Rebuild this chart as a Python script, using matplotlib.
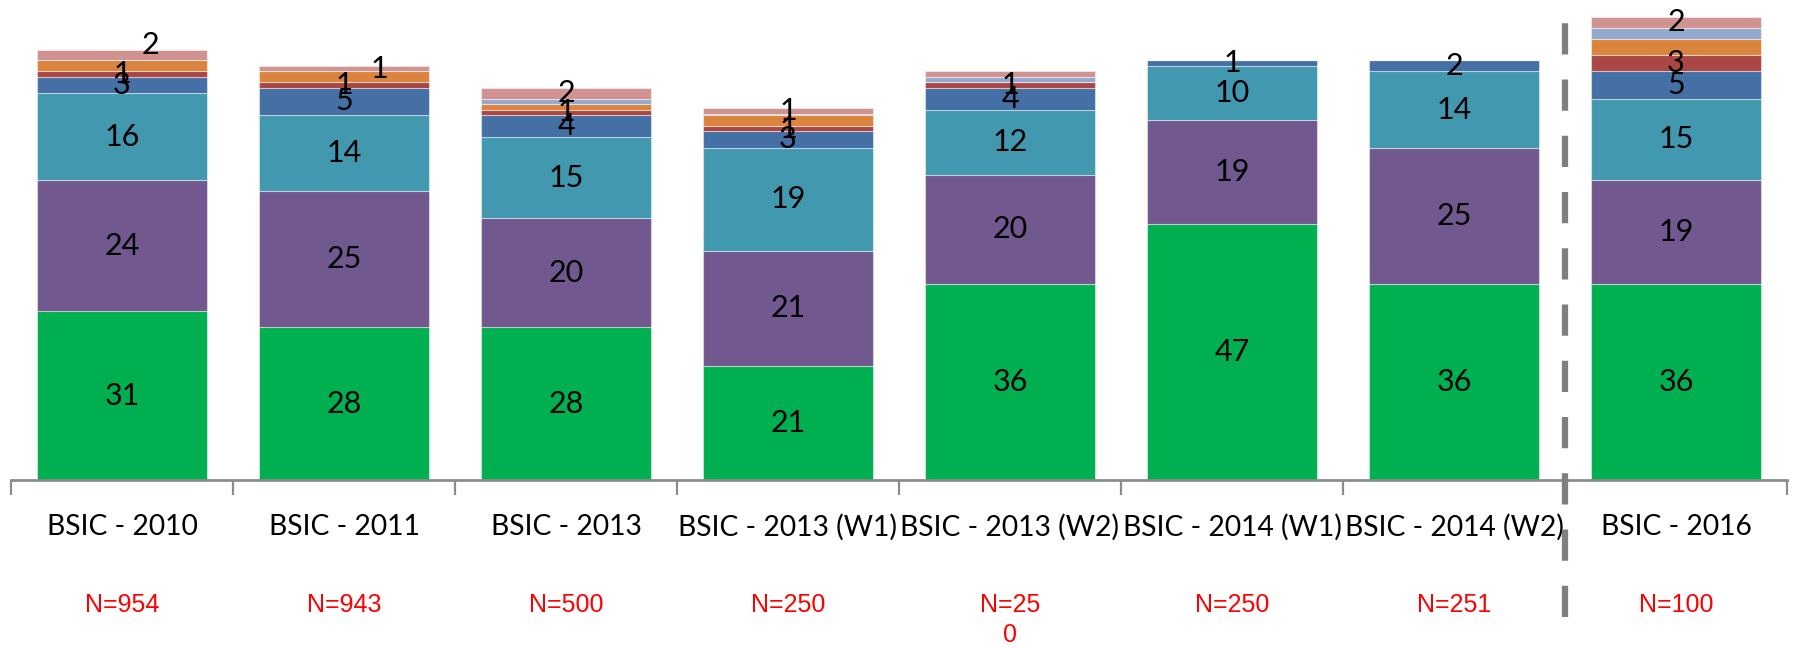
import matplotlib

matplotlib.use("Agg")
import matplotlib.pyplot as plt
import matplotlib.transforms as mtransforms
import numpy as np

# bars, bottom series first
categories = [
    "BSIC - 2010",
    "BSIC - 2011",
    "BSIC - 2013",
    "BSIC - 2013 (W1)",
    "BSIC - 2013 (W2)",
    "BSIC - 2014 (W1)",
    "BSIC - 2014 (W2)",
    "BSIC - 2016",
]
sample_sizes = ["N=954", "N=943", "N=500", "N=250", "N=25\n0", "N=250", "N=251", "N=100"]

green = [31, 28, 28, 21, 36, 47, 36, 36]
purple = [24, 25, 20, 21, 20, 19, 25, 19]
teal = [16, 14, 15, 19, 12, 10, 14, 15]
blue = [3, 5, 4, 3, 4, 1, 2, 5]
red = [1, 1, 1, 1, 1, 0, 0, 3]
orange = [2, 2, 1, 2, 0, 0, 0, 3]
lightblue = [0, 0, 1, 0.2, 1, 0, 0, 2]
pink = [2, 1, 2, 1, 1, 0, 0, 2]

PINK = "#D19392"
series = [
    (green, "#00B050", True),
    (purple, "#71588F", True),
    (teal, "#4198AF", True),
    (blue, "#4470A5", True),
    (red, "#AA4643", True),
    (orange, "#DB843D", False),
    (lightblue, "#93A9CF", False),
    (pink, PINK, True),
]
# pink labels that were dragged off-centre in the original, pixels
pink_nudge = [(28, 10), (35, 0), (0, 0), (0, 0), None, (0, 0), (0, 0), (0, 0)]

LABEL_FONT = ["Lato", "DejaVu Sans"]
N_FONT = ["Liberation Sans Narrow", "Liberation Sans", "DejaVu Sans"]

fig = plt.figure(figsize=(17.93, 6.48), dpi=100)
ax = fig.add_axes([11 / 1793, 1 - 480 / 648, 1776 / 1793, 480 / 648])

x = np.arange(len(categories))
bottom = np.zeros(len(categories))
for vals, color, labelled in series:
    vals = np.array(vals, dtype=float)
    ax.bar(x, vals, bottom=bottom, width=0.766, color=color,
           edgecolor=(1, 1, 1, 0.45), linewidth=0.8)
    if labelled:
        for i, v in enumerate(vals):
            if v < 0.5:
                continue
            dx, dy = 0, 0
            if color == PINK:
                if pink_nudge[i] is None:
                    continue
                dx, dy = pink_nudge[i]
            ax.annotate(f"{v:.0f}", xy=(x[i], bottom[i] + v / 2),
                        xytext=(dx, dy), textcoords="offset pixels",
                        ha="center", va="center", fontsize=22,
                        family=LABEL_FONT, color="black")
    bottom += vals

ax.set_xlim(-0.5, len(categories) - 0.5)
ax.set_ylim(0, 88.1)
ax.set_yticks([])
for side in ["left", "right", "top"]:
    ax.spines[side].set_visible(False)
ax.spines["bottom"].set_color("#8C8C8C")
ax.spines["bottom"].set_linewidth(2)

ax.set_xticks(np.arange(len(categories) + 1) - 0.5)
ax.set_xticklabels([])
ax.tick_params(axis="x", length=11, width=1.6, color="#8C8C8C", direction="out")

trans = mtransforms.blended_transform_factory(ax.transData, ax.transAxes)
for i, (cat, n) in enumerate(zip(categories, sample_sizes)):
    ax.text(x[i], -0.098, cat, transform=trans, ha="center", va="center",
            fontsize=20.3, family=LABEL_FONT, color="black")
    ax.text(x[i], -0.236, n, transform=trans, ha="center", va="top",
            fontsize=18, family=N_FONT, color="#FF0000", linespacing=1.3)

ax.plot([6.5, 6.5], [-0.285, 0.99], transform=trans, clip_on=False,
        color="#7F7F7F", lw=4.5, dashes=(5, 4), zorder=5)

fig.savefig("out.png", dpi=100)
